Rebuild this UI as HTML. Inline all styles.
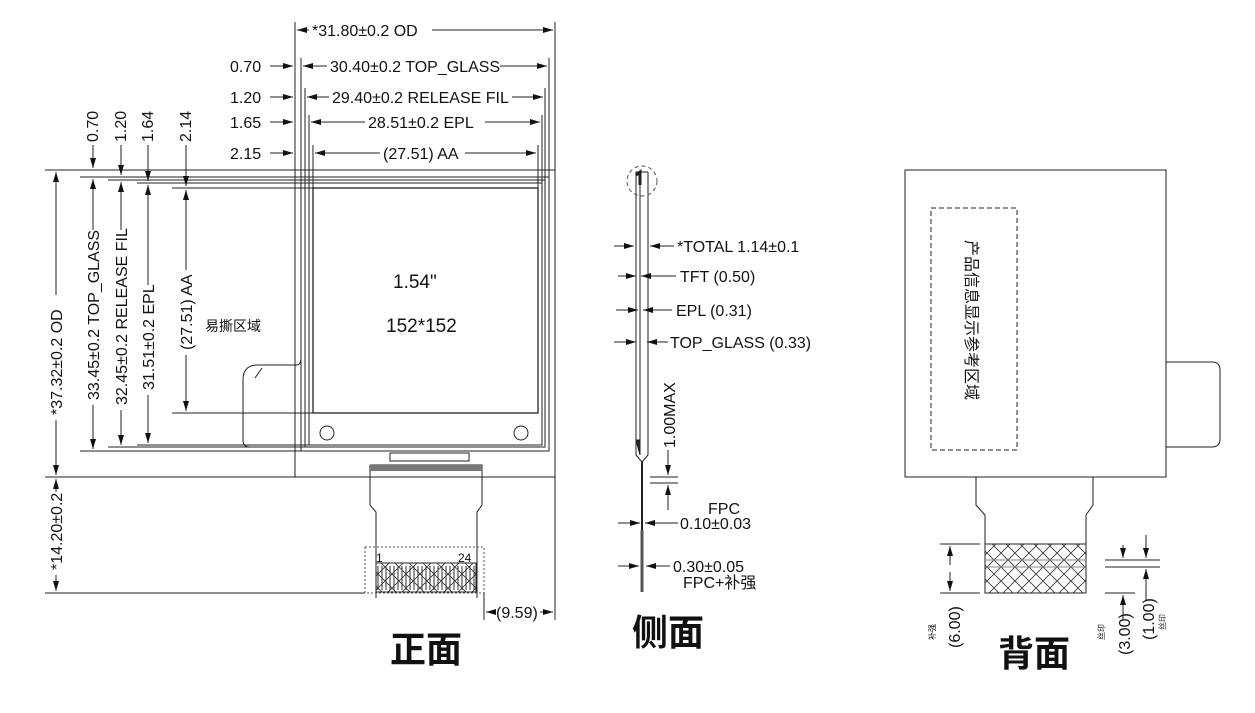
<!DOCTYPE html>
<html><head><meta charset="utf-8"><style>
html,body{margin:0;padding:0;background:#fff;}
svg{display:block;}
text{font-family:"Liberation Sans","Noto Sans CJK SC",sans-serif;fill:#111;}
</style></head><body>
<svg width="1255" height="713" viewBox="0 0 1255 713" xmlns="http://www.w3.org/2000/svg">
<defs>
<marker id="a" viewBox="0 0 10 6" refX="10" refY="3" markerWidth="10" markerHeight="6" orient="auto-start-reverse" markerUnits="userSpaceOnUse"><path d="M0,0 L10,3 L0,6 z" fill="#111"/></marker>
<pattern id="hx" width="14" height="14" patternUnits="userSpaceOnUse"><path d="M0,0 L14,14 M14,0 L0,14" stroke="#333" stroke-width="0.8"/></pattern>
</defs>
<g stroke="#222" stroke-width="1" fill="none">
<rect x="295" y="170" width="260" height="307"/>
<rect x="301" y="177" width="248" height="274"/>
<rect x="305" y="180" width="240" height="267"/>
<rect x="309" y="183" width="233" height="262"/>
<rect x="313" y="188" width="225" height="225" stroke-width="1.3"/>
<circle cx="327" cy="433" r="7"/><circle cx="521" cy="433" r="7"/>
<rect x="390" y="453" width="79" height="8"/>
<path d="M370,465 H482 V505 L477,512 V598 M370,465 V505 L376,512 V598"/>
<rect x="370" y="465" width="112" height="6" fill="#777" stroke="none"/>
<rect x="365" y="547" width="119" height="46" stroke-dasharray="2,2" stroke="#555"/>
<rect x="376" y="563" width="100" height="29" fill="url(#hx)"/>
<path d="M378,566 V590 M382,566 V590 M386,566 V590 M390,566 V590 M394,566 V590 M398,566 V590 M402,566 V590 M406,566 V590 M410,566 V590 M414,566 V590 M418,566 V590 M422,566 V590 M426,566 V590 M430,566 V590 M434,566 V590 M438,566 V590 M442,566 V590 M446,566 V590 M450,566 V590 M454,566 V590 M458,566 V590 M462,566 V590 M466,566 V590 M470,566 V590 M474,566 V590" stroke="#333"/>
<path d="M243,380 Q243,365 258,365 H296 Q301,365 301,358" />
<path d="M243,380 V440 Q243,447 250,447 H305"/>
<path d="M301,365 V447" stroke-dasharray="2,2"/>
<path d="M255,378 L262,368" />
<path d="M295,22 V170 M555,22 V170 M301,58 V177 M549,58 V177 M305,88 V180 M545,88 V180 M309,115 V183 M542,115 V183 M313,145 V188 M538,145 V188"/>
<path d="M45,170 H295 M80,177 H301 M108,180 H305 M137,183 H309 M172,188 H313 M45,477 H295 M80,451 H301 M108,447 H305 M137,445 H309 M172,413 H313 M45,593 H365"/>
<path d="M555,477 V620 M484,593 V620"/>
</g>
<g stroke="#222" stroke-width="1" fill="none" marker-end="url(#a)">
<path d="M309,30 H297" /><path d="M432,30 H553"/>
<path d="M270,66 H293"/><path d="M327,66 H303"/><path d="M500,66 H547"/>
<path d="M270,97 H293"/><path d="M329,97 H307"/><path d="M512,97 H543"/>
<path d="M270,122 H293"/><path d="M365,122 H311"/><path d="M485,122 H540"/>
<path d="M270,153 H293"/><path d="M380,153 H315"/><path d="M465,153 H536"/>
<path d="M93,145 V168"/><path d="M121,145 V175"/><path d="M148,145 V181"/><path d="M186,145 V186"/>
<path d="M56,295 V172"/><path d="M56,420 V475"/>
<path d="M93,230 V179"/><path d="M93,405 V449"/>
<path d="M121,230 V182"/><path d="M121,410 V445"/>
<path d="M148,285 V185"/><path d="M148,395 V443"/>
<path d="M186,270 V190"/><path d="M186,355 V411"/>
<path d="M56,492 V479"/><path d="M56,575 V591"/>
<path d="M495,612 H486"/><path d="M540,612 H553"/>
</g>
<g font-size="16">
<text x="312" y="36">*31.80±0.2 OD</text>
<text x="330" y="72">30.40±0.2 TOP_GLASS</text>
<text x="332" y="103">29.40±0.2 RELEASE FIL</text>
<text x="368" y="128">28.51±0.2 EPL</text>
<text x="383" y="159">(27.51) AA</text>
<text x="230" y="72">0.70</text>
<text x="230" y="103">1.20</text>
<text x="230" y="128">1.65</text>
<text x="230" y="159">2.15</text>
<text transform="translate(98,142) rotate(-90)">0.70</text>
<text transform="translate(126,142) rotate(-90)">1.20</text>
<text transform="translate(153,142) rotate(-90)">1.64</text>
<text transform="translate(191,142) rotate(-90)">2.14</text>
<text transform="translate(62,415) rotate(-90)">*37.32±0.2 OD</text>
<text transform="translate(99,400) rotate(-90)">33.45±0.2 TOP_GLASS</text>
<text transform="translate(127,405) rotate(-90)">32.45±0.2 RELEASE FIL</text>
<text transform="translate(154,390) rotate(-90)">31.51±0.2 EPL</text>
<text transform="translate(192,350) rotate(-90)">(27.51) AA</text>
<text transform="translate(62,570) rotate(-90)">*14.20±0.2</text>
<text x="496" y="618">(9.59)</text>
<text x="205" y="331" font-size="14">易撕区域</text>
<text x="376" y="562" font-size="12">1</text><text x="458" y="562" font-size="12">24</text>
</g>
<text x="393" y="288" font-size="19">1.54"</text>
<text x="386" y="332" font-size="19">152*152</text>
<text x="390" y="662" font-size="36" font-weight="bold">正面</text>

<g stroke="#222" fill="none">
<path d="M636,172 V455 L642,462 M648,172 V455 M640,175 V450 M636,172 H648 M648,455 L642,462"/>
<path d="M642,462 V530" stroke-width="2"/>
<path d="M642,530 V592" stroke-width="3" stroke="#555"/>
<path d="M636,175 L640,172 V185" stroke-width="3"/>
<circle cx="642" cy="181" r="15" stroke-dasharray="4,3" stroke="#555"/>
<path d="M636,440 L640,440 L640,455 Z" fill="#222"/>
<path d="M650,477 H678 M650,483 H678"/>
<g marker-end="url(#a)">
<path d="M614,246 H634"/><path d="M674,246 H650"/>
<path d="M618,276 H636"/><path d="M676,276 H641"/>
<path d="M616,310 H638"/><path d="M672,310 H643"/>
<path d="M614,342 H636"/><path d="M668,342 H647"/>
<path d="M668,450 V475"/><path d="M668,510 V485"/>
<path d="M618,523 H640"/><path d="M678,523 H645"/>
<path d="M618,566 H639"/><path d="M670,566 H646"/>
</g>
</g>
<g font-size="16">
<text x="677" y="252">*TOTAL 1.14±0.1</text>
<text x="680" y="282">TFT (0.50)</text>
<text x="676" y="316">EPL (0.31)</text>
<text x="670" y="348">TOP_GLASS (0.33)</text>
<text transform="translate(675,448) rotate(-90)">1.00MAX</text>
<text x="708" y="514">FPC</text>
<text x="680" y="529">0.10±0.03</text>
<text x="673" y="572">0.30±0.05</text>
<text x="683" y="588">FPC+补强</text>
</g>
<text x="632" y="645" font-size="36" font-weight="bold">侧面</text>

<g stroke="#222" fill="none">
<rect x="905" y="170" width="261" height="307"/>
<rect x="931" y="208" width="86" height="242" stroke-dasharray="5,3"/>
<path d="M1166,362 H1212 Q1220,362 1220,370 V439 Q1220,447 1212,447 H1166"/>
<path d="M976,477 V505 L985,515 V593 M1093,477 V505 L1086,515 V593"/>
<rect x="985" y="544" width="101" height="49" fill="url(#hx)"/>
<path d="M985,560 H1086 M985,567 H1086" stroke="#888"/>
<path d="M940,544 H980 M940,593 H980 M1105,560 H1160 M1105,567 H1160 M1105,593 H1135"/>
<g marker-end="url(#a)">
<path d="M950,565 V546"/><path d="M950,572 V591"/>
<path d="M1123,545 V558"/><path d="M1123,620 V595"/>
<path d="M1146,535 V558"/><path d="M1146,600 V569"/>
</g>
</g>
<text transform="translate(966,240) rotate(90)" font-size="16">产品信息显示参考区域</text>
<g font-size="16">
<text transform="translate(960,648) rotate(-90)">(6.00)</text>
<text transform="translate(1130,655) rotate(-90)">(3.00)</text>
<text transform="translate(1154,640) rotate(-90)">(1.00)</text>
</g>
<g font-size="8">
<text transform="translate(935,640) rotate(-90)">补强</text>
<text transform="translate(1104,640) rotate(-90)">丝印</text>
<text transform="translate(1165,630) rotate(-90)">丝印</text>
</g>
<text x="998" y="666" font-size="36" font-weight="bold">背面</text>
</svg>
</body></html>
